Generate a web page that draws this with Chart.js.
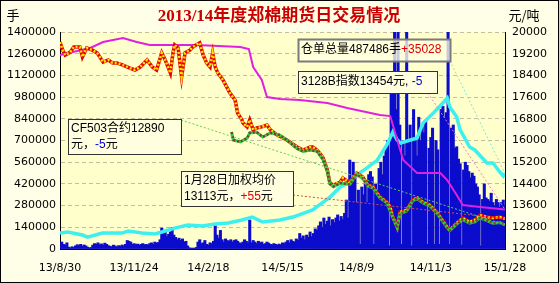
<!DOCTYPE html>
<html>
<head>
<meta charset="utf-8">
<script src="https://cdn.jsdelivr.net/npm/chart.js@4/dist/chart.umd.min.js"></script>
<style>
  html, body { margin: 0; padding: 0; background: #ffffe7; }
  canvas { display: block; }
</style>
</head>
<body>
<canvas id="chart" width="559" height="283"></canvas>
<script>
// x axis runs in days counted from 2013-08-30, one label every 86 days
const xTickLabels = ["13/8/30", "13/11/24", "14/2/18", "14/5/15", "14/8/9", "14/11/3", "15/1/28"];
const labelGap = 86;
const lastDay = 516;

// daily volume (手), one bar every 2 days
const volumeStep = 2;
const volumeValues = [
  38000, 45000, 30000, 25000, 40000, 12000, 8000, 15000, 10000, 20000,
  28000, 22000, 30000, 18000, 26000, 20000, 12000, 6000, 10000, 25000,
  35000, 30000, 40000, 28000, 33000, 25000, 38000, 30000, 22000, 18000,
  15000, 25000, 20000, 12000, 22000, 18000, 26000, 20000, 30000, 55000,
  50000, 45000, 30000, 35000, 28000, 32000, 25000, 30000, 35000, 28000,
  30000, 25000, 35000, 40000, 30000, 45000, 38000, 42000, 60000, 135000,
  100000, 120000, 80000, 95000, 110000, 140000, 90000, 75000, 60000, 70000,
  55000, 65000, 45000, 50000, 20000, 8000, 5000, 6000, 5000, 10000,
  45000, 60000, 35000, 40000, 55000, 30000, 25000, 40000, 35000, 50000,
  150000, 90000, 70000, 120000, 60000, 45000, 65000, 55000, 50000, 60000,
  45000, 55000, 60000, 50000, 40000, 35000, 45000, 60000, 50000, 40000,
  187000, 40000, 55000, 45000, 35000, 50000, 40000, 45000, 30000, 35000,
  45000, 38000, 30000, 28000, 35000, 30000, 25000, 32000, 28000, 40000,
  35000, 45000, 55000, 40000, 60000, 50000, 45000, 65000, 55000, 100000,
  70000, 85000, 60000, 90000, 75000, 110000, 80000, 100000, 130000, 120000,
  150000, 175000, 140000, 200000, 160000, 180000, 206000, 150000, 190000, 170000,
  200000, 220000, 180000, 210000, 190000, 230000, 316000, 200000, 574000, 420000,
  560000, 480000, 300000, 380000, 30000, 400000, 350000, 420000, 300000, 480000,
  500000, 465000, 30000, 420000, 380000, 520000, 560000, 480000, 600000, 650000,
  700000, 20000, 1000000, 1100000, 1420000, 900000, 1420000, 800000, 30000, 700000,
  600000, 1420000, 700000, 800000, 20000, 900000, 700000, 600000, 850000, 700000,
  790000, 750000, 830000, 30000, 650000, 720000, 780000, 30000, 700000, 640000,
  30000, 900000, 920000, 850000, 880000, 1400000, 30000, 780000, 800000, 650000,
  660000, 580000, 550000, 25000, 510000, 560000, 540000, 500000, 460000, 490000,
  470000, 420000, 400000, 350000, 20000, 320000, 420000, 330000, 320000, 310000,
  360000, 300000, 280000, 320000, 300000, 270000, 300000, 316000, 280000
];

// cyan line, left axis (手)
const openDays = [0, 9, 26, 32, 49, 72, 79, 95, 110, 118, 133, 148, 165, 180, 195, 211, 223, 235, 255, 270, 293, 313, 325, 336, 344, 356, 368, 379, 386, 391, 395, 414, 421, 433, 444, 449, 452, 460, 464, 475, 481, 495, 502, 510, 514, 516];
const openValues = [103000, 110000, 90000, 77000, 103000, 103000, 116000, 103000, 97000, 110000, 135000, 155000, 148000, 161000, 168000, 187000, 206000, 174000, 187000, 206000, 252000, 335000, 400000, 432000, 477000, 523000, 574000, 671000, 755000, 703000, 684000, 716000, 813000, 877000, 942000, 974000, 916000, 852000, 768000, 658000, 639000, 555000, 555000, 497000, 471000, 487486];

// 3128B index, right axis (元/吨)
const indexDays = [0, 35, 50, 73, 89, 104, 136, 159, 209, 219, 224, 234, 240, 255, 278, 310, 333, 371, 383, 391, 398, 414, 441, 449, 460, 467, 487, 516];
const indexValues = [19150, 19410, 19630, 19780, 19630, 19520, 19520, 19520, 19450, 19370, 18710, 18230, 17600, 17530, 17490, 17380, 17200, 16940, 16900, 16020, 15280, 14800, 14800, 14540, 13990, 13620, 13550, 13454];

// weighted average price, right axis
const avgDays = [0, 3, 6, 12, 16, 20, 23, 26, 31, 37, 43, 50, 56, 61, 66, 73, 81, 87, 93, 101, 107, 112, 118, 122, 128, 131, 133, 137, 141, 145, 151, 154, 162, 166, 170, 174, 177, 180, 183, 189, 197, 203, 206, 211, 212, 217, 220, 224, 228, 234, 240, 244, 252, 263, 275, 282, 290, 293, 298, 301, 305, 310, 313, 317, 325, 328, 336, 344, 351, 357, 363, 371, 379, 383, 386, 391, 394, 402, 409, 414, 421, 429, 437, 441, 449, 452, 460, 467, 475, 481, 487, 495, 502, 510, 516];
const avgValues = [19630, 19340, 19150, 19260, 19450, 19450, 19450, 19080, 19410, 19340, 19230, 18890, 18970, 18860, 18860, 18780, 18670, 18600, 18710, 18970, 18710, 18600, 19230, 18970, 18490, 19230, 19520, 19410, 18340, 19230, 19340, 19450, 19600, 19150, 18860, 18710, 19230, 18710, 18490, 18230, 17750, 17490, 17010, 16760, 16650, 16500, 16760, 16390, 16460, 16500, 16570, 16390, 16200, 16020, 15760, 15650, 15760, 15760, 15650, 15540, 15360, 14910, 14430, 14360, 14470, 14620, 14430, 14800, 14650, 14360, 14290, 13920, 13730, 13550, 13180, 12810, 13360, 13440, 13810, 13880, 13730, 13620, 13360, 13180, 12810, 12700, 12960, 13140, 13000, 13070, 13250, 13180, 13140, 13180, 13113];

// CF503 contract, right axis
const cfDays = [199, 201, 209, 217, 220, 228, 235, 244, 255, 263, 275, 282, 290, 298, 305, 310, 313, 317, 325, 336, 344, 351, 357, 363, 371, 379, 386, 391, 394, 402, 409, 414, 421, 429, 437, 441, 449, 452, 460, 467, 475, 481, 487, 495, 502, 510, 516];
const cfValues = [16310, 16020, 15950, 16090, 16280, 16310, 16130, 16280, 16200, 16020, 15700, 15600, 15650, 15600, 15300, 14850, 14400, 14300, 14430, 14380, 14750, 14600, 14320, 14250, 13880, 13700, 13150, 12780, 13300, 13400, 13780, 13850, 13700, 13580, 13320, 13150, 12780, 12680, 12920, 13080, 12950, 13000, 13150, 13050, 12950, 12980, 12890];

const toPoints = (xs, ys) => xs.map((d, i) => ({ x: d, y: ys[i] }));
const volumePoints = volumeValues.map((v, i) => ({ x: i * volumeStep, y: v }));

const plotBg = "#ffffcc";
const pageBg = "#ffffe7";
const textFont = "12px 'Liberation Sans', 'Noto Sans CJK SC'";

// draw a dotted leader line
function leader(ctx, x0, y0, x1, y1, color) {
  ctx.save();
  ctx.strokeStyle = color;
  ctx.lineWidth = 1;
  ctx.setLineDash([2, 2]);
  ctx.beginPath();
  ctx.moveTo(x0, y0);
  ctx.lineTo(x1, y1);
  ctx.stroke();
  ctx.restore();
}

// box with one or more lines of coloured text runs
function noteBox(ctx, x, y, w, h, lines, opt) {
  ctx.save();
  ctx.fillStyle = opt.fill;
  ctx.fillRect(x, y, w, h);
  ctx.strokeStyle = opt.border;
  ctx.lineWidth = opt.width;
  ctx.strokeRect(x + 0.5, y + 0.5, w, h);
  ctx.font = textFont;
  ctx.textBaseline = "middle";
  lines.forEach((runs, li) => {
    let tx = x + opt.pad;
    const ty = y + opt.first + li * opt.step;
    runs.forEach(([t, c]) => {
      ctx.fillStyle = c;
      ctx.fillText(t, tx, ty);
      tx += ctx.measureText(t).width;
    });
  });
  ctx.restore();
}

const backdrop = {
  id: "backdrop",
  beforeDraw(chart) {
    const { ctx, chartArea: a } = chart;
    ctx.save();
    ctx.fillStyle = pageBg;
    ctx.fillRect(0, 0, chart.width, chart.height);
    ctx.fillStyle = plotBg;
    ctx.fillRect(a.left, a.top, a.right - a.left, a.bottom - a.top);
    ctx.restore();
  },
  afterDraw(chart) {
    const { ctx } = chart;
    ctx.save();
    ctx.fillStyle = "#cc0000";
    ctx.font = "bold 17px 'Liberation Serif', 'Noto Sans CJK SC'";
    ctx.textAlign = "center";
    ctx.textBaseline = "middle";
    ctx.fillText("2013/14年度郑棉期货日交易情况", 279, 17);
    ctx.fillStyle = "#000";
    ctx.font = "13px 'Noto Sans CJK SC'";
    ctx.fillText("手", 13, 15);
    ctx.fillText("元/吨", 524, 15);
    ctx.strokeStyle = "#000";
    ctx.lineWidth = 1;
    ctx.strokeRect(0.5, 0.5, chart.width - 1, chart.height - 1);
    ctx.restore();
  }
};

const callouts = {
  id: "callouts",
  afterDatasetsDraw(chart) {
    const { ctx } = chart;
    const { x, yL, yR } = chart.scales;
    const ex = x.getPixelForValue(lastDay);
    leader(ctx, 181, 120, ex, yR.getPixelForValue(cfValues[cfValues.length - 1]), "#5cd05c");
    leader(ctx, 293, 195, ex, yR.getPixelForValue(avgValues[avgValues.length - 1]), "#e04848");
    leader(ctx, 428, 93, ex, yR.getPixelForValue(indexValues[indexValues.length - 1]), "#f07ad0");
    leader(ctx, 450, 61, ex, yL.getPixelForValue(openValues[openValues.length - 1]), "#8fe0cc");

    noteBox(ctx, 298, 39, 152, 22, [[["仓单总量487486手", "#000"], ["+35028", "#dd0000"]]],
      { fill: "rgba(255,255,224,0.78)", border: "#7a7a7a", width: 2, pad: 3, first: 11, step: 0 });
    noteBox(ctx, 298, 71, 139, 22, [[["3128B指数13454元, ", "#000"], ["-5", "#0000cc"]]],
      { fill: "#ffffe0", border: "#333", width: 1, pad: 3, first: 11, step: 0 });
    noteBox(ctx, 68, 119, 113, 35, [[["CF503合约12890", "#000"]], [["元，", "#000"], ["-5", "#0000cc"], ["元", "#000"]]],
      { fill: "#ffffe0", border: "#333", width: 1, pad: 3, first: 10, step: 16 });
    noteBox(ctx, 181, 171, 112, 35, [[["1月28日加权均价", "#000"]], [["13113元，", "#000"], ["+55", "#dd0000"], ["元", "#000"]]],
      { fill: "#ffffe0", border: "#333", width: 1, pad: 3, first: 10, step: 16 });
  }
};

Chart.defaults.font.family = "'DejaVu Sans', sans-serif";
Chart.defaults.font.size = 11;
Chart.defaults.color = "#000";

new Chart(document.getElementById("chart"), {
  type: "bar",
  data: {
    datasets: [
      { type: "line", label: "CF503", data: toPoints(cfDays, cfValues), yAxisID: "yR",
        borderColor: "#7a3c3c", borderWidth: 2.5, borderDash: [2, 2], pointRadius: 0, order: 1 },
      { type: "line", label: "CF503 base", data: toPoints(cfDays, cfValues), yAxisID: "yR",
        borderColor: "#33cc33", borderWidth: 3, pointRadius: 0, order: 2 },
      { type: "line", label: "加权均价 dots", data: toPoints(avgDays, avgValues), yAxisID: "yR",
        borderColor: "#ffe400", borderWidth: 2.5, borderDash: [2, 2], pointRadius: 0, order: 3 },
      { type: "line", label: "加权均价", data: toPoints(avgDays, avgValues), yAxisID: "yR",
        borderColor: "#e80000", borderWidth: 3.5, pointRadius: 0, order: 4 },
      { type: "line", label: "3128B", data: toPoints(indexDays, indexValues), yAxisID: "yR",
        borderColor: "#e020e0", borderWidth: 2, pointRadius: 0, order: 5 },
      { type: "line", label: "持仓", data: toPoints(openDays, openValues), yAxisID: "yL",
        borderColor: "#3cf0f0", borderWidth: 3.5, pointRadius: 0, order: 6 },
      { type: "bar", label: "成交量", data: volumePoints, yAxisID: "yL",
        backgroundColor: "#0c0ccc", barThickness: 2.4, order: 7 }
    ]
  },
  options: {
    responsive: false,
    animation: false,
    events: [],
    layout: { padding: { top: 32, left: 0, right: 0, bottom: 0 } },
    plugins: { legend: { display: false }, tooltip: { enabled: false } },
    scales: {
      x: {
        type: "linear",
        offset: false,
        min: 0,
        max: lastDay,
        grid: { display: false, drawTicks: false },
        border: { display: true, color: "#000" },
        ticks: {
          stepSize: labelGap,
          autoSkip: false,
          maxRotation: 0,
          padding: 13,
          callback: (v) => xTickLabels[Math.round(v / labelGap)]
        },
        afterFit: (s) => { s.height = 34; }
      },
      yL: {
        position: "left",
        min: 0,
        max: 1400000,
        grid: { color: "#c4bca4", drawTicks: false },
        border: { display: true, color: "#000", dash: [4, 3] },
        ticks: { stepSize: 140000, padding: 4, callback: (v) => String(v) },
        afterFit: (s) => { s.width = 60; }
      },
      yR: {
        position: "right",
        min: 12000,
        max: 20000,
        grid: { display: false, drawTicks: false },
        border: { display: true, color: "#000" },
        ticks: { stepSize: 800, padding: 7, callback: (v) => String(v) },
        afterFit: (s) => { s.width = 54; }
      }
    }
  },
  plugins: [backdrop, callouts]
});
</script>
</body>
</html>
